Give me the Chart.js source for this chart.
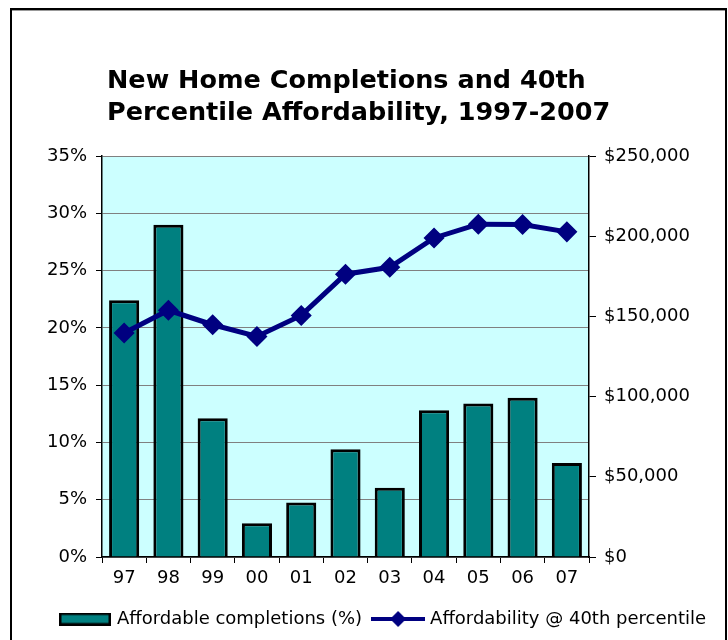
<!DOCTYPE html>
<html lang="en">
<head>
  <meta charset="UTF-8">
  <title>New Home Completions and 40th Percentile Affordability</title>
  <script src="https://cdn.jsdelivr.net/npm/chart.js"></script>
  <style>
    body { margin: 0; background: #fff; }
    .wrap { position: relative; width: 728px; height: 640px; }
    .frame {
      position: absolute; left: 10px; top: 8px; width: 713px; height: 640px;
      border-left: 2px solid #000; border-top: 2px solid #000; border-right: 2px solid #000;
      box-shadow: inset 0 1px 0 #999;
    }
    canvas { position: absolute; left: 0; top: 0; }
  </style>
</head>
<body>
<div class="wrap">
  <div class="frame"></div>
  <canvas id="chart" width="728" height="640"></canvas>
</div>
<script>
  const titleLines = ['New Home Completions and 40th', 'Percentile Affordability, 1997-2007'];
  const years = ['97', '98', '99', '00', '01', '02', '03', '04', '05', '06', '07'];
  const completions = [22.4, 29.0, 12.1, 2.95, 4.75, 9.4, 6.05, 12.8, 13.4, 13.9, 8.2];
  const affordability = [139600, 153800, 144800, 137500, 150600, 176300, 180600, 198900, 207500, 207300, 202700];

  Chart.defaults.font.family = '"DejaVu Sans", Verdana, sans-serif';
  Chart.defaults.font.size = 18;
  Chart.defaults.color = '#000';

  // little pictures for the legend
  function makeIcon(w, h, draw) {
    const c = document.createElement('canvas');
    c.width = w; c.height = h;
    draw(c.getContext('2d'));
    return c;
  }
  const barIcon = makeIcon(52, 13, g => {
    g.fillStyle = '#008080';
    g.fillRect(1, 1, 50, 11);
    g.lineWidth = 2.5;
    g.strokeStyle = '#000';
    g.strokeRect(1.25, 1.25, 49.5, 10.5);
  });
  const lineIcon = makeIcon(54, 18, g => {
    g.strokeStyle = '#000080';
    g.lineWidth = 4;
    g.beginPath(); g.moveTo(0, 9); g.lineTo(54, 9); g.stroke();
    g.fillStyle = '#000080';
    g.beginPath(); g.moveTo(27, 1); g.lineTo(35, 9); g.lineTo(27, 17); g.lineTo(19, 9); g.closePath(); g.fill();
  });

  const plotBackground = {
    id: 'plotBackground',
    beforeDraw(chart) {
      const { ctx, chartArea: a } = chart;
      ctx.save();
      ctx.fillStyle = '#CCFFFF';
      ctx.fillRect(a.left, a.top, a.right - a.left, a.bottom - a.top);
      ctx.restore();
    }
  };

  const leftTitle = {
    id: 'leftTitle',
    afterDraw(chart) {
      const ctx = chart.ctx;
      ctx.save();
      ctx.font = 'bold 25.5px "DejaVu Sans", Verdana, sans-serif';
      ctx.fillStyle = '#000';
      ctx.textBaseline = 'alphabetic';
      ctx.fillText(titleLines[0], 107, 88);
      ctx.fillText(titleLines[1], 107, 120);
      ctx.restore();
    }
  };

  new Chart(document.getElementById('chart'), {
    type: 'bar',
    data: {
      labels: years,
      datasets: [{
        label: 'Affordable completions (%)',
        data: completions,
        backgroundColor: '#008080',
        borderColor: '#000',
        borderWidth: 3,
        barPercentage: 0.68,
        categoryPercentage: 1,
        yAxisID: 'y',
        order: 1
      }, {
        type: 'line',
        label: 'Affordability @ 40th percentile',
        data: affordability,
        borderColor: '#000080',
        backgroundColor: '#000080',
        borderWidth: 5,
        pointStyle: 'rectRot',
        pointRadius: 7,
        pointBackgroundColor: '#000080',
        pointBorderColor: '#000080',
        tension: 0,
        yAxisID: 'y1',
        order: 0
      }]
    },
    options: {
      responsive: false,
      animation: false,
      layout: { padding: { left: 40, right: 0, top: 156, bottom: 2 } },
      plugins: {
        title: { display: false },
        tooltip: { enabled: false },
        legend: {
          position: 'bottom',
          labels: {
            font: { size: 18 },
            usePointStyle: true,
            pointStyleWidth: 46,
            boxHeight: 13,
            padding: 13,
            generateLabels(chart) {
              const items = Chart.defaults.plugins.legend.labels.generateLabels(chart);
              items.sort((a, b) => a.datasetIndex - b.datasetIndex);
              items[0].pointStyle = barIcon;
              items[1].pointStyle = lineIcon;
              return items;
            }
          }
        }
      },
      scales: {
        x: {
          grid: { drawOnChartArea: false, offset: true, tickLength: 6, tickColor: '#000' },
          border: { color: '#000', width: 1.5 },
          ticks: { padding: 5 },
          afterFit(s) { s.height = 40; }
        },
        y: {
          position: 'left',
          min: 0, max: 35,
          ticks: { stepSize: 5, padding: 9, callback: v => v + '%' },
          grid: { color: '#808080', lineWidth: 1, tickLength: 6, tickColor: '#000' },
          border: { color: '#000', width: 1.5 },
          afterFit(s) { s.width = 62; }
        },
        y1: {
          position: 'right',
          min: 0, max: 250000,
          ticks: { stepSize: 50000, padding: 8, callback: v => '$' + v.toLocaleString('en-US') },
          grid: { drawOnChartArea: false, tickLength: 7, tickColor: '#000' },
          border: { color: '#000', width: 1.5 },
          afterFit(s) { s.width = 139; }
        }
      }
    },
    plugins: [plotBackground, leftTitle]
  });
</script>
</body>
</html>
